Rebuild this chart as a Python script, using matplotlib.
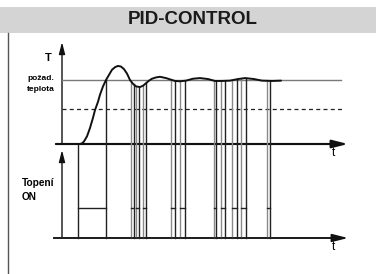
import numpy as np
import matplotlib
matplotlib.use("Agg")
import matplotlib.pyplot as plt
from matplotlib.patches import Rectangle

# ---- data ----
title = "PID-CONTROL"
setpoint = 100          # required temperature level
dashed_level = 55       # lower (dashed) reference level
# temperature curve: time, temperature
curve_t = [0, 18, 20, 22, 25, 28, 31, 33, 36, 38, 41, 44, 47, 50, 53, 56, 59, 62,
           65, 68, 71, 74, 78, 81, 84, 87, 90, 94, 98, 104, 110, 113, 118, 124,
           131, 138, 146, 153, 160, 168, 176, 183, 192, 200, 210, 219]
curve_T = [0, 0, 1, 4, 12, 25, 41, 53, 66, 77, 90, 100, 108, 116, 120, 122, 121, 117,
           110, 100, 94, 90, 89, 91, 95, 99, 102, 104, 105, 103, 100, 98.5, 98, 99,
           102, 103, 101.5, 98.5, 98.5, 99, 101.5, 103, 101.5, 99, 98.5, 99]
# heater ON intervals (start, end)
pulse_on = [16, 69, 74, 81, 109, 117.5, 152, 158.5, 170, 179, 205]
pulse_off = [44, 71.5, 76.5, 84, 113, 123, 154, 163, 175, 184, 208]

# ---- layout helpers (pixel -> figure fraction) ----
W, H = 376, 274
fig = plt.figure(figsize=(W / 100, H / 100), dpi=100)
fig.patch.set_facecolor("white")

def fx(px):
    return px / W

def fy(py):
    return 1 - py / H

# background axes for title bar and frame
bg = fig.add_axes([0, 0, 1, 1])
bg.set_xlim(0, W)
bg.set_ylim(H, 0)
bg.axis("off")
bg.add_patch(Rectangle((0, 7), W, 26, color="#d4d4d4", lw=0))
bg.plot([8, 8], [33, H], color="#555555", lw=1.0)
bg.text(193, 19.5, title, ha="center", va="center", fontsize=13.5,
        fontweight="bold", family="Liberation Sans", color="#1a1a1a")

# upper (temperature) axes
x0, x1 = 62, 348
ax1 = fig.add_axes([fx(x0), fy(144), fx(x1) - fx(x0), (144 - 42) / H])
ax1.set_xlim(0, x1 - x0)
ax1.set_ylim(0, (144 - 42) / 0.64)
ax1.axis("off")

# lower (heater) axes
ax2 = fig.add_axes([fx(x0), fy(238), fx(x1) - fx(x0), (238 - 150) / H])
ax2.set_xlim(0, x1 - x0)
ax2.set_ylim(0, 88 / 30)
ax2.axis("off")

# reference lines
ax1.plot([0, 279], [setpoint, setpoint], color="#7a7a7a", lw=1.0, clip_on=False)
ax1.plot([0, 281], [dashed_level, dashed_level], color="#222222", lw=0.9,
         ls=(0, (3.2, 2.6)), clip_on=False)

# pulse edge lines (spanning from heater baseline up to the temperature curve)
bottom_T = ax1.transData.inverted().transform(ax2.transData.transform((0, 0)))[1]
edges = list(pulse_on) + list(pulse_off)
cols = ["#8a8a8a"] * len(pulse_on) + ["#222222"] * len(pulse_off)
cols[0] = "#222222"
for t, c in zip(edges, cols):
    top = np.interp(t, curve_t, curve_T)
    ax1.plot([t, t], [bottom_T, top], color=c, lw=1.0, clip_on=False)

# pulse tops
for a, b in zip(pulse_on, pulse_off):
    ax2.plot([a, b], [1, 1], color="#222222", lw=1.0, clip_on=False)

# temperature curve
ax1.plot(curve_t, curve_T, color="#111111", lw=1.4, clip_on=False,
         solid_capstyle="round", zorder=5)

# axes arrows
def arrow(ax, xa, ya, xb, yb, color, lw, hw, hl, line_color=None):
    disp = ax.transData.transform([(xa, ya), (xb, yb)])
    (pa, qa), (pb, qb) = bg.transData.inverted().transform(disp)
    bg.annotate("", xy=(pb, qb), xytext=(pa, qa),
                arrowprops=dict(arrowstyle=f"-|>,head_width={hw},head_length={hl}",
                                color=color, lw=lw, shrinkA=0, shrinkB=0))
    if line_color is not None:
        bg.plot([pa, pb - 9 if pb != pa else pb], [qa, qb], color=line_color, lw=lw)

ytop = ax1.get_ylim()[1]
arrow(ax1, 0, 0, 0, ytop, "#111111", 1.0, 0.18, 0.7)
arrow(ax1, -6, 0, 286, 0, "#111111", 1.5, 0.24, 0.95, line_color="#6e6e6e")
arrow(ax2, 0, 0, 0, ax2.get_ylim()[1], "#111111", 1.0, 0.18, 0.7)
arrow(ax2, -8, 0, 286, 0, "#111111", 1.2, 0.24, 0.95, line_color="#444444")
# heater signal baseline drawn on top
ax2.plot([-8, 216], [0, 0], color="#222222", lw=1.2, clip_on=False)

# labels
fam = "Liberation Sans"
bg.text(48, 58, "T", ha="center", va="center", fontsize=8, fontweight="bold", family=fam)
bg.text(27, 79, "požad.", ha="left", va="center", fontsize=6, fontweight="bold", family=fam)
bg.text(27, 89.5, "teplota", ha="left", va="center", fontsize=6, fontweight="bold", family=fam)
bg.text(21.5, 183, "Topení", ha="left", va="center", fontsize=7.3, fontweight="bold", family=fam)
bg.text(21.5, 197, "ON", ha="left", va="center", fontsize=7.3, fontweight="bold", family=fam)
bg.text(333, 153, "t", ha="center", va="center", fontsize=8.5, family=fam)
bg.text(333, 247.5, "t", ha="center", va="center", fontsize=8.5, family=fam)

fig.savefig("out.png", dpi=100)
